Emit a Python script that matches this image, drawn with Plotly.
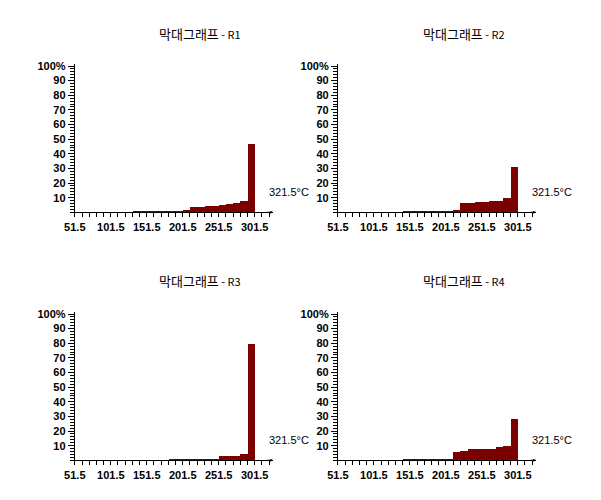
import plotly.graph_objects as go

# ---------------- data ----------------
bin_centers = [136.5, 146.5, 156.5, 166.5, 176.5, 186.5, 196.5, 206.5, 216.5,
               226.5, 236.5, 246.5, 256.5, 266.5, 276.5, 286.5, 296.5]
r1_values = [0.6, 0.6, 0.6, 0.6, 0.6, 0.6, 1.0, 1.8, 3.8, 4.0, 4.4, 4.9, 5.4, 6.0, 6.6, 8.2, 47.0]
r2_values = [0.0, 0.6, 0.6, 0.6, 0.6, 0.7, 0.8, 1.3, 2.2, 6.8, 7.0, 7.3, 7.5, 7.8, 8.0, 10.0, 31.3]
r3_values = [0.0, 0.0, 0.0, 0.0, 0.0, 0.6, 0.6, 0.6, 0.6, 0.6, 0.6, 1.5, 3.0, 3.0, 3.0, 4.8, 80.0]
r4_values = [0.0, 0.6, 0.6, 0.6, 0.6, 0.6, 0.6, 1.5, 5.8, 6.5, 8.0, 8.0, 8.4, 8.4, 9.2, 10.0, 28.5]
series_names = ["R1", "R2", "R3", "R4"]
series_values = [r1_values, r2_values, r3_values, r4_values]

x_tick_vals = [51.5, 101.5, 151.5, 201.5, 251.5, 301.5]
x_tick_text = ["51.5", "101.5", "151.5", "201.5", "251.5", "301.5"]
y_tick_vals = [10, 20, 30, 40, 50, 60, 70, 80, 90, 100]
y_tick_text = ["10", "20", "30", "40", "50", "60", "70", "80", "90", "100%"]
end_label = "321.5°C"
title_main = "막대그래프"

# ---------------- layout ----------------
W, H = 601, 500
X_RANGE = [51.5, 327.1]
Y_RANGE = [0, 101.7]
BAR_COLOR = "#7b0000"

panels = [
    # (x_left_px, x_right_px, y_top_px, y_bottom_px)
    (65, 267, 60, 210),
    (333, 535, 60, 210),
    (65, 267, 310, 460),
    (333, 535, 310, 460),
]
title_pos = [(193, 30), (461, 30), (193, 279), (461, 279)]

fig = go.Figure()
tick_font = dict(family="Liberation Sans, Arial", size=11, color="black", weight=700)

for i, (name, vals) in enumerate(zip(series_names, series_values)):
    n = i + 1
    xa = "x" if n == 1 else f"x{n}"
    ya = "y" if n == 1 else f"y{n}"
    fig.add_trace(go.Bar(
        x=bin_centers, y=vals, width=10,
        marker=dict(color=BAR_COLOR, line=dict(width=0)),
        xaxis=xa, yaxis=ya, showlegend=False, hoverinfo="x+y",
    ))
    xl, xr, yt, yb = panels[i]
    xkey = "xaxis" if n == 1 else f"xaxis{n}"
    ykey = "yaxis" if n == 1 else f"yaxis{n}"
    fig.layout[xkey] = dict(
        domain=[xl / W, xr / W], range=X_RANGE, anchor=ya,
        showline=True, linecolor="black", linewidth=1,
        showgrid=False, zeroline=False,
        tickmode="array", tickvals=x_tick_vals, ticktext=x_tick_text,
        ticks="outside", ticklen=4, tickcolor="black", tickwidth=1,
        minor=dict(tickmode="linear", tick0=51.5, dtick=10, ticks="outside",
                   ticklen=4, tickcolor="black", tickwidth=1, showgrid=False),
        tickfont=tick_font, fixedrange=True,
    )
    fig.layout[ykey] = dict(
        domain=[1 - yb / H, 1 - yt / H], range=Y_RANGE, anchor=xa,
        showline=True, linecolor="black", linewidth=1,
        showgrid=False, zeroline=False,
        tickmode="array", tickvals=y_tick_vals, ticktext=y_tick_text,
        ticks="outside", ticklen=6, tickcolor="black", tickwidth=1,
        minor=dict(tickmode="linear", tick0=0, dtick=2, ticks="outside",
                   ticklen=4, tickcolor="black", tickwidth=1, showgrid=False),
        tickfont=tick_font, fixedrange=True,
    )
    # arrow at the end of x axis
    fig.add_annotation(
        x=X_RANGE[1], y=0, xref=xa, yref=ya, ax=-8, ay=0,
        showarrow=True, arrowhead=2, arrowsize=0.6, arrowwidth=1,
        arrowcolor="black", text="",
    )
    # end label
    fig.add_annotation(
        x=(xr + 16) / W, y=1 - (yb - 20) / H, xref="paper", yref="paper",
        text=end_label, showarrow=False, xanchor="center", yanchor="middle",
        font=dict(family="Liberation Sans, Arial", size=11, color="black"),
    )
    # title
    tx, ty = title_pos[i]
    fig.add_annotation(
        x=tx / W, y=1 - ty / H, xref="paper", yref="paper", showarrow=False,
        xanchor="center", yanchor="middle",
        text=(f"<span style='font-size:13px'>{title_main}</span>"
              f"<span style='font-size:11px'> - {name}</span>"),
        font=dict(family="Noto Sans CJK KR, Noto Sans", size=13, color="black"),
    )

fig.update_layout(
    width=W, height=H, margin=dict(l=0, r=0, t=0, b=0),
    paper_bgcolor="white", plot_bgcolor="white",
    bargap=0, barmode="overlay",
)

fig.write_html("out.html")
